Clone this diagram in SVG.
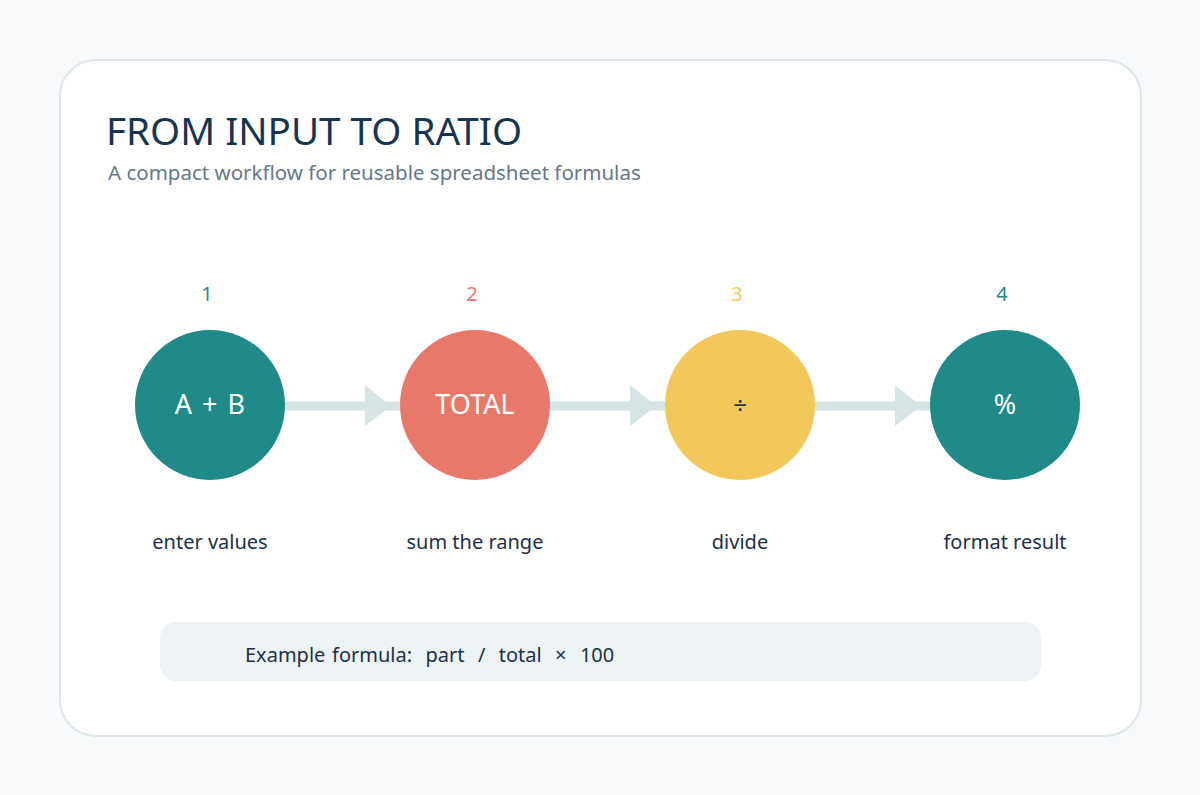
<svg xmlns="http://www.w3.org/2000/svg" width="1200" height="795" viewBox="0 0 1200 795">
<defs>
<style>
.t{font-family:"Noto Sans","Open Sans","Liberation Sans",sans-serif}
.num{font-size:20px;text-anchor:middle}
.in{font-size:27px;text-anchor:middle;fill:#ffffff}
.lab{font-size:20px;text-anchor:middle;fill:#1d3049}
.conn{stroke:#d6e4e6;stroke-width:9;fill:none}
.head{fill:#d6e4e6}
</style>
</defs>
<rect x="0" y="0" width="1200" height="795" fill="#f7f9fa"/>
<rect x="60" y="60" width="1081" height="676" rx="36" fill="#ffffff" stroke="#dde6e8" stroke-width="2"/>
<text class="t" x="106" y="145" font-size="38.6" fill="#173450">FROM INPUT TO RATIO</text>
<text class="t" x="108" y="180" font-size="20.5" fill="#66778a">A compact workflow for reusable spreadsheet formulas</text>
<g id="connectors">
<line class="conn" x1="285" y1="406" x2="400" y2="406"/>
<polygon class="head" points="365,385 391,406 365,426"/>
<line class="conn" x1="550" y1="406" x2="665" y2="406"/>
<polygon class="head" points="630,385 656,406 630,426"/>
<line class="conn" x1="815" y1="406" x2="930" y2="406"/>
<polygon class="head" points="895,385 921,406 895,426"/>
</g>
<g id="step1">
<text class="t num" x="207" y="301" fill="#1f8a87">1</text>
<circle cx="210" cy="405" r="75" fill="#1f8a87"/>
<text class="t in" x="210" y="414" word-spacing="3">A + B</text>
<text class="t lab" x="210" y="549">enter values</text>
</g>
<g id="step2">
<text class="t num" x="472" y="301" fill="#e8796a">2</text>
<circle cx="475" cy="405" r="75" fill="#e8796a"/>
<text class="t in" x="475" y="414">TOTAL</text>
<text class="t lab" x="475" y="549">sum the range</text>
</g>
<g id="step3">
<text class="t num" x="737" y="301" fill="#f2c85b">3</text>
<circle cx="740" cy="405" r="75" fill="#f2c85b"/>
<text class="t" x="740" y="414" font-size="24" text-anchor="middle" fill="#1d3049">÷</text>
<text class="t lab" x="740" y="549">divide</text>
</g>
<g id="step4">
<text class="t num" x="1002" y="301" fill="#1f8a87">4</text>
<circle cx="1005" cy="405" r="75" fill="#1f8a87"/>
<text class="t in" x="1005" y="414">%</text>
<text class="t lab" x="1005" y="549">format result</text>
</g>
<g id="formula">
<rect x="160" y="622" width="881" height="59" rx="16" fill="#edf2f4"/>
<text class="t" x="245" y="662" font-size="20" fill="#1d3049" word-spacing="1.5" xml:space="preserve">Example formula:  part  /  total  ×  100</text>
</g>
</svg>
